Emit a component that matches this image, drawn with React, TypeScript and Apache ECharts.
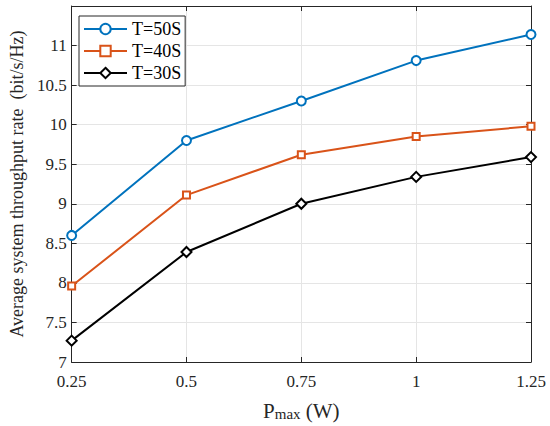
import React, { useEffect, useRef } from "react";
import * as echarts from "echarts";

const xValues = [0.25, 0.5, 0.75, 1, 1.25];
const seriesNames = ["T=50S", "T=40S", "T=30S"];
const t50 = [8.6, 9.8, 10.3, 10.81, 11.14];
const t40 = [7.96, 9.11, 9.62, 9.85, 9.98];
const t30 = [7.27, 8.39, 9.0, 9.34, 9.59];
const colors = ["#0072BD", "#D95319", "#000000"];
const symbols = ["circle", "rect", "diamond"];
const symbolSizes = [9, 7, 10];

const FONT = "Liberation Serif, serif";

export default function App() {
  const ref = useRef<HTMLDivElement>(null);
  useEffect(() => {
    if (!ref.current) return;
    const chart = echarts.init(ref.current, undefined, { renderer: "svg" });
    const all = [t50, t40, t30];
    const axisCommon = {
      type: "value" as const,
      axisLine: { show: true, lineStyle: { color: "#262626", width: 1 } },
      axisTick: { show: true, inside: true, length: 5, lineStyle: { color: "#262626" } },
    };
    chart.setOption({
      animation: false,
      backgroundColor: "#ffffff",
      textStyle: { fontFamily: FONT },
      grid: { left: 64, right: 19, top: 6, bottom: 63, containLabel: false },
      legend: {
        orient: "vertical",
        left: 79,
        top: 16,
        padding: [4, 4, 4, 4],
        itemWidth: 43,
        itemHeight: 13,
        itemGap: 4,
        backgroundColor: "#ffffff",
        borderColor: "#262626",
        borderWidth: 1,
        borderRadius: 0,
        textStyle: { fontFamily: FONT, fontSize: 18, lineHeight: 18, color: "#000" },
        data: seriesNames,
      },
      xAxis: [
        {
          ...axisCommon,
          min: 0.25,
          max: 1.25,
          interval: 0.25,
          name: "{p|P}{s|max}{p| (W)}",
          nameLocation: "middle",
          nameGap: 30,
          nameTextStyle: {
            rich: {
              p: { fontFamily: FONT, fontSize: 21, color: "#262626", verticalAlign: "bottom" },
              s: { fontFamily: FONT, fontSize: 15, color: "#262626", verticalAlign: "top", padding: [14, 0, 0, 0] },
            },
          },
          axisLabel: { fontFamily: FONT, fontSize: 17, color: "#262626", margin: 11 },
          splitLine: { show: true, lineStyle: { color: "#e5e5e5", width: 1 } },
        },
        {
          ...axisCommon,
          position: "top",
          min: 0.25,
          max: 1.25,
          interval: 0.25,
          axisLabel: { show: false },
          splitLine: { show: false },
        },
      ],
      yAxis: [
        {
          ...axisCommon,
          min: 7,
          max: 11.5,
          interval: 0.5,
          name: "Average system throughput rate  (bit/s/Hz)",
          nameLocation: "middle",
          nameGap: 43,
          nameTextStyle: { fontFamily: FONT, fontSize: 18, color: "#262626" },
          axisLabel: {
            fontFamily: FONT,
            fontSize: 17,
            color: "#262626",
            margin: 5,
            formatter: (v: number) => (v >= 11.5 ? "" : String(v)),
          },
          splitLine: { show: true, lineStyle: { color: "#e5e5e5", width: 1 } },
        },
        {
          ...axisCommon,
          position: "right",
          min: 7,
          max: 11.5,
          interval: 0.5,
          axisLabel: { show: false },
          splitLine: { show: false },
        },
      ],
      series: all.map((vals, i) => ({
        name: seriesNames[i],
        type: "line",
        xAxisIndex: 0,
        yAxisIndex: 0,
        data: xValues.map((x, j) => [x, vals[j]]),
        symbol: symbols[i],
        symbolSize: symbolSizes[i],
        showAllSymbol: true,
        lineStyle: { color: colors[i], width: 2 },
        itemStyle: { color: "#ffffff", borderColor: colors[i], borderWidth: 2 },
        z: 3 - i + 2,
      })),
    });
    return () => chart.dispose();
  }, []);
  return (
    <div
      ref={ref}
      style={{ position: "fixed", left: 0, top: 0, width: 550, height: 426 }}
    />
  );
}
